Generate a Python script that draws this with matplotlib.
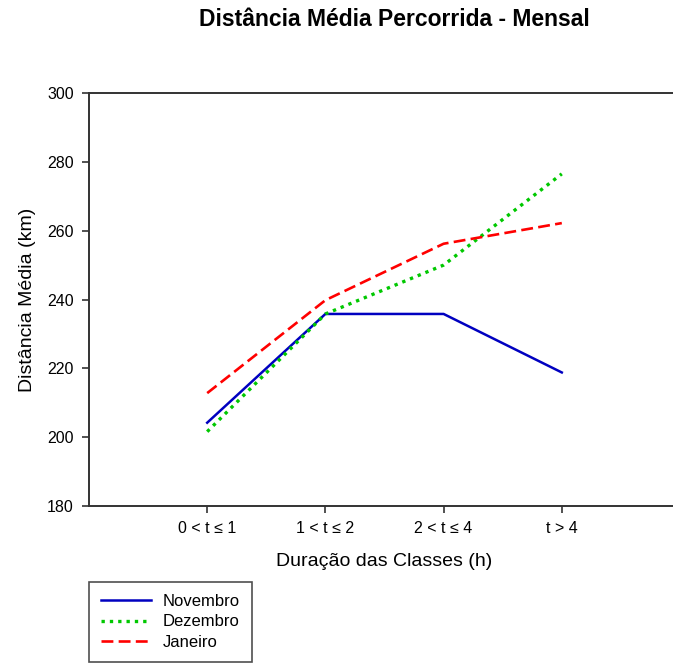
import matplotlib
matplotlib.use("Agg")
import matplotlib.pyplot as plt

categories = ["0 < t ≤ 1", "1 < t ≤ 2", "2 < t ≤ 4", "t > 4"]
novembro = [204.2, 235.8, 235.8, 218.8]
dezembro = [201.6, 235.8, 250.0, 276.5]
janeiro = [212.8, 239.8, 256.2, 262.2]
y_ticks = [180, 200, 220, 240, 260, 280, 300]

plt.rcParams['font.family'] = ['Liberation Sans', 'DejaVu Sans']

fig = plt.figure(figsize=(6.73, 6.63), dpi=100)
W, H = 673, 663
left, right, top, bottom = 89, 680, 93, 506
ax = fig.add_axes([left / W, 1 - bottom / H, (right - left) / W, (bottom - top) / H])

x = list(range(len(categories)))
ax.plot(x, novembro, color="#0000c0", lw=1.8, label="Novembro", solid_joinstyle="round")
ax.plot(x, dezembro, color="#00c800", lw=2.4, linestyle=(0, (1.0, 1.5)), label="Dezembro",
        dash_capstyle="butt")
ax.plot(x, janeiro, color="#ff0000", lw=1.9, linestyle=(0, (4.5, 2.0)), label="Janeiro")

ax.set_xlim(-1, 4)
ax.set_ylim(180, 300)
ax.set_xticks(x)
ax.set_xticklabels(categories, fontsize=11.5)
ax.set_yticks(y_ticks)
ax.set_yticklabels([str(v) for v in y_ticks], fontsize=11.5)
ax.tick_params(axis='both', direction='out', length=5, width=1.2, color="#333333", pad=6)
for s in ['left', 'bottom', 'top', 'right']:
    ax.spines[s].set_color("#333333")
    ax.spines[s].set_linewidth(1.4)

ax.set_xlabel("Duração das Classes (h)", fontsize=14, labelpad=12)
ax.set_ylabel("Distância Média (km)", fontsize=14, labelpad=8)

fig.text(394 / W, 1 - 20 / H, "Distância Média Percorrida - Mensal", ha='center', va='center',
         fontsize=16.5, fontweight='bold')

leg = fig.legend(loc='upper left', bbox_to_anchor=(89 / W, 1 - 582 / H), fontsize=12,
                 frameon=True, fancybox=False, edgecolor="#222222", handlelength=3.0,
                 labelspacing=0.33, borderpad=0.72, handletextpad=0.7, borderaxespad=0)
leg.get_frame().set_linewidth(1.2)

fig.savefig("out.png", dpi=100)
